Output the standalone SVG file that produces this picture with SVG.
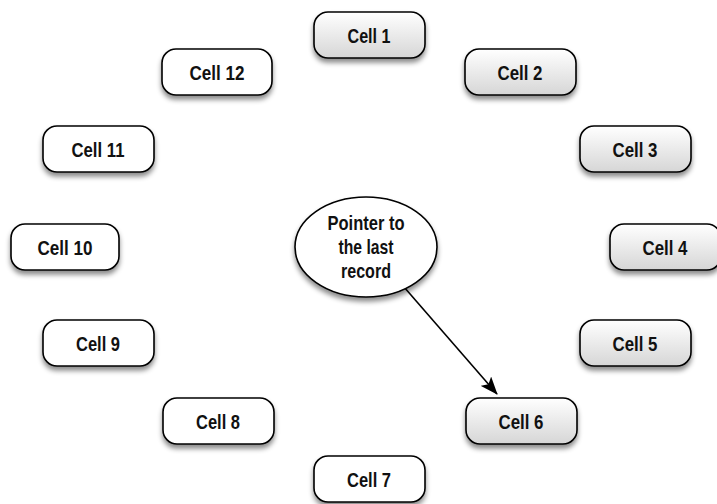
<svg xmlns="http://www.w3.org/2000/svg" width="717" height="504" viewBox="0 0 717 504">
<defs>
<linearGradient id="gray" x1="0" y1="0" x2="0" y2="1">
<stop offset="0" stop-color="#ffffff"/>
<stop offset="1" stop-color="#d6d6d6"/>
</linearGradient>
<filter id="sh" x="-20%" y="-30%" width="140%" height="170%">
<feDropShadow dx="0" dy="4" stdDeviation="2.5" flood-color="#000" flood-opacity="0.45"/>
</filter>
<marker id="arr" viewBox="0 0 18 14" refX="17" refY="7" markerWidth="18" markerHeight="14" markerUnits="userSpaceOnUse" orient="auto">
<path d="M0,0 L18,7 L0,14 L4,7 Z" fill="#000"/>
</marker>
</defs>
<style>
.box{stroke:#000;stroke-width:1.6;filter:url(#sh)}
.g{fill:url(#gray)}
.w{fill:#fff}
text{font-family:"Liberation Sans",Arial,sans-serif;font-size:21px;font-weight:bold;text-anchor:middle;fill:#111}
</style>
<g id="connectors">
<line x1="404" y1="287" x2="497" y2="394" stroke="#000" stroke-width="1.6" marker-end="url(#arr)"/>
</g>
<g id="pointer">
<ellipse cx="366" cy="247" rx="71" ry="50" class="box w"/>
<text x="366" y="230" textLength="77" lengthAdjust="spacingAndGlyphs">Pointer to</text>
<text x="366" y="254" textLength="55" lengthAdjust="spacingAndGlyphs">the last</text>
<text x="366" y="278" textLength="50" lengthAdjust="spacingAndGlyphs">record</text>
</g>
<g id="cell1"><rect x="314" y="12" width="111" height="46" rx="14" class="box g"/><text x="369" y="43" textLength="43" lengthAdjust="spacingAndGlyphs">Cell 1</text></g>
<g id="cell2"><rect x="465" y="49" width="111" height="46" rx="14" class="box g"/><text x="520" y="80" textLength="45" lengthAdjust="spacingAndGlyphs">Cell 2</text></g>
<g id="cell3"><rect x="580" y="126" width="111" height="46" rx="14" class="box g"/><text x="635" y="157" textLength="45" lengthAdjust="spacingAndGlyphs">Cell 3</text></g>
<g id="cell4"><rect x="610" y="224" width="111" height="46" rx="14" class="box g"/><text x="665" y="255" textLength="45" lengthAdjust="spacingAndGlyphs">Cell 4</text></g>
<g id="cell5"><rect x="580" y="320" width="111" height="46" rx="14" class="box g"/><text x="635" y="351" textLength="45" lengthAdjust="spacingAndGlyphs">Cell 5</text></g>
<g id="cell6"><rect x="466" y="398" width="111" height="46" rx="14" class="box g"/><text x="521" y="429" textLength="45" lengthAdjust="spacingAndGlyphs">Cell 6</text></g>
<g id="cell7"><rect x="314" y="456" width="111" height="46" rx="14" class="box w"/><text x="369" y="487" textLength="44" lengthAdjust="spacingAndGlyphs">Cell 7</text></g>
<g id="cell8"><rect x="163" y="398" width="111" height="46" rx="14" class="box w"/><text x="218" y="429" textLength="44" lengthAdjust="spacingAndGlyphs">Cell 8</text></g>
<g id="cell9"><rect x="43" y="320" width="111" height="46" rx="14" class="box w"/><text x="98" y="351" textLength="44" lengthAdjust="spacingAndGlyphs">Cell 9</text></g>
<g id="cell10"><rect x="11" y="224" width="108" height="46" rx="14" class="box w"/><text x="65" y="255" textLength="55" lengthAdjust="spacingAndGlyphs">Cell 10</text></g>
<g id="cell11"><rect x="43" y="126" width="111" height="46" rx="14" class="box w"/><text x="98" y="157" textLength="53" lengthAdjust="spacingAndGlyphs">Cell 11</text></g>
<g id="cell12"><rect x="162" y="49" width="110" height="46" rx="14" class="box w"/><text x="217" y="80" textLength="55" lengthAdjust="spacingAndGlyphs">Cell 12</text></g>
</svg>
